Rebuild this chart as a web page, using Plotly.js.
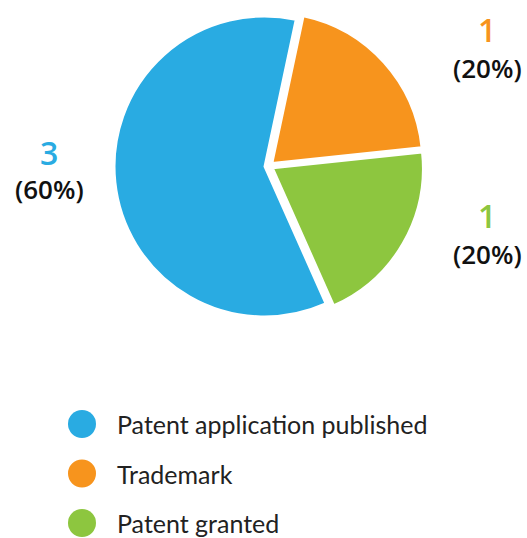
<!DOCTYPE html>
<html>
<head>
<meta charset="utf-8">
<script src="https://cdn.plot.ly/plotly-3.0.1.min.js"></script>
<style>html,body{margin:0;padding:0;background:#fff;}#chart{width:527px;height:538px;}</style>
</head>
<body>
<div id="chart"></div>
<script>
// Data
const categories = ["Patent application published", "Trademark", "Patent granted"];
const counts = [3, 1, 1];
const colors = ["#29ABE2", "#F7941D", "#8DC63F"];
// slice drawing order (clockwise from just right of 12 o'clock)
const sliceOrder = [1, 2, 0];

const W = 527, H = 538;
const px = x => x / W;
const py = y => 1 - y / H;

const total = counts.reduce((a, b) => a + b, 0);
const pct = counts.map(v => Math.round(v / total * 100));

const trace = {
  type: "pie",
  labels: sliceOrder.map(i => categories[i]),
  values: sliceOrder.map(i => counts[i]),
  marker: { colors: sliceOrder.map(i => colors[i]), line: { color: "#ffffff", width: 2 } },
  sort: false,
  direction: "clockwise",
  rotation: 12,
  pull: 0.03,
  textinfo: "none",
  hoverinfo: "label+value+percent",
  showlegend: false,
  domain: { x: [px(114.5), px(423.5)], y: [py(321.5), py(10.5)] }
};

// label positions (pixel layout)
const labelPos = [
  { x: 49, yNum: 153, yPct: 189 },
  { x: 487, yNum: 29, yPct: 68 },
  { x: 487, yNum: 215, yPct: 254 }
];

const annotations = [];
const shapes = [];
const labelFont = "Open Sans, Lato, sans-serif";
categories.forEach((c, i) => {
  const p = labelPos[i];
  annotations.push({
    xref: "paper", yref: "paper", x: px(p.x), y: py(p.yNum),
    xanchor: "center", yanchor: "middle", showarrow: false,
    text: String(counts[i]),
    font: { family: labelFont, size: 32, color: colors[i], weight: 600 }
  });
  annotations.push({
    xref: "paper", yref: "paper", x: px(p.x), y: py(p.yPct),
    xanchor: "center", yanchor: "middle", showarrow: false,
    text: "(" + pct[i] + "%)",
    font: { family: labelFont, size: 26, color: "#111111", weight: 600 }
  });
  // legend
  const ly = 424 + i * 49.5;
  shapes.push({
    type: "circle", xref: "paper", yref: "paper",
    x0: px(68), x1: px(96), y0: py(ly + 14), y1: py(ly - 14),
    fillcolor: colors[i], line: { width: 0 }
  });
  annotations.push({
    xref: "paper", yref: "paper", x: px(115), y: py(ly),
    xanchor: "left", yanchor: "middle", showarrow: false,
    text: c,
    font: { family: "Lato, sans-serif", size: 25, color: "#222222" }
  });
});

const layout = {
  width: W, height: H,
  margin: { l: 0, r: 0, t: 0, b: 0 },
  paper_bgcolor: "#ffffff",
  showlegend: false,
  annotations: annotations,
  shapes: shapes
};

Plotly.newPlot("chart", [trace], layout, { displayModeBar: false, staticPlot: true });
</script>
</body>
</html>
